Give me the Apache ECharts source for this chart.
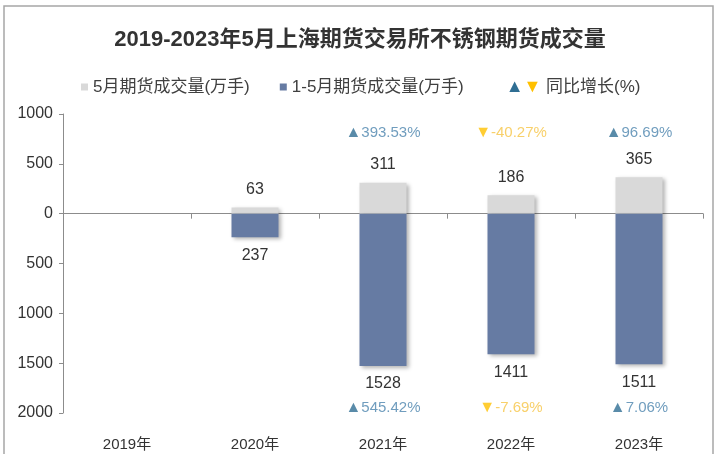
<!DOCTYPE html>
<html>
<head>
<meta charset="utf-8">
<script src="https://cdn.jsdelivr.net/npm/echarts@6/dist/echarts.min.js"></script>
<style>
html, body { margin: 0; padding: 0; background: #fff; }
#main { width: 720px; height: 454px; }
</style>
</head>
<body>
<div id="main"></div>
<script>
// data
var years = ['2019年', '2020年', '2021年', '2022年', '2023年'];
var mayVolume = [null, 63, 311, 186, 365];          // 5月期货成交量(万手)
var ytdVolume = [null, 237, 1528, 1411, 1511];      // 1-5月期货成交量(万手)
var mayGrowth = [null, null, 393.53, -40.27, 96.69]; // 5月同比增长(%)
var ytdGrowth = [null, null, 545.42, -7.69, 7.06];   // 1-5月同比增长(%)

// fixed heights (axis units) where the growth labels sit
var TOP_ROW = 810;
var BOTTOM_ROW = -1945;

var FONT = '"Liberation Sans", "Noto Sans CJK SC", sans-serif';

var chart = echarts.init(document.getElementById('main'));

function growthRow(values, level) {
    return values.map(function (v, i) {
        return v == null ? null : [i, level, v];
    });
}

function growthLabel(p) {
    var v = p.data[2];
    if (v >= 0) return '{upT|▲}{upV|' + v.toFixed(2) + '%}';
    return '{dnT|▼}{dnV|' + v.toFixed(2) + '%}';
}

var growthRich = {
    upT: { color: '#2F6E93', fontSize: 16, fontFamily: FONT },
    upV: { color: '#4C84AE', fontSize: 15, fontFamily: FONT },
    dnT: { color: '#FFC000', fontSize: 16, fontFamily: FONT },
    dnV: { color: '#F6C445', fontSize: 15, fontFamily: FONT }
};

var barShadow = {
    shadowBlur: 4,
    shadowColor: 'rgba(0,0,0,0.3)',
    shadowOffsetX: 2,
    shadowOffsetY: 2
};

option = {
    backgroundColor: '#fff',
    animation: false,
    title: {
        text: '2019-2023年5月上海期货交易所不锈钢期货成交量',
        left: 'center',
        top: 24,
        textStyle: {
            fontFamily: FONT,
            fontSize: 22,
            fontWeight: 'bold',
            color: '#333'
        }
    },
    legend: {
        left: 76,
        top: 73,
        itemWidth: 7,
        itemHeight: 7,
        itemGap: 30,
        textStyle: {
            fontFamily: FONT,
            fontSize: 17,
            color: '#404040',
            rich: {
                lu: { color: '#2F6E93', fontSize: 18 },
                ld: { color: '#FFC000', fontSize: 18 },
                lt: { color: '#404040', fontSize: 17, fontFamily: FONT }
            }
        },
        formatter: function (name) {
            if (name === '同比增长(%)') return '{lu|▲}{ld|▼} {lt|' + name + '}';
            return name;
        },
        data: [
            { name: '5月期货成交量(万手)', icon: 'rect' },
            { name: '1-5月期货成交量(万手)', icon: 'rect' },
            { name: '同比增长(%)', icon: 'none' }
        ]
    },
    grid: {
        left: 63,
        right: 17,
        top: 114,
        bottom: 41
    },
    xAxis: [
        {
            type: 'category',
            data: years,
            axisLine: { onZero: true, lineStyle: { color: '#8C8C8C', width: 1 } },
            axisTick: { show: true, length: 5, lineStyle: { color: '#8C8C8C' } },
            axisLabel: { show: false }
        },
        {
            type: 'category',
            data: years,
            position: 'bottom',
            axisLine: { show: false, onZero: false },
            axisTick: { show: false },
            axisLabel: {
                margin: 24,
                fontFamily: FONT,
                fontSize: 15,
                color: '#333'
            }
        }
    ],
    yAxis: {
        type: 'value',
        min: -2000,
        max: 1000,
        interval: 500,
        axisLine: { show: true, lineStyle: { color: '#8C8C8C' } },
        axisTick: { show: true, length: 4, lineStyle: { color: '#8C8C8C' } },
        splitLine: { show: false },
        axisLabel: {
            margin: 10,
            fontFamily: FONT,
            fontSize: 16,
            color: '#333',
            formatter: function (v) { return Math.abs(v); }
        }
    },
    series: [
        {
            name: '5月期货成交量(万手)',
            type: 'bar',
            xAxisIndex: 0,
            barWidth: 47,
            barGap: '-100%',
            data: mayVolume,
            itemStyle: Object.assign({ color: '#D9D9D9' }, barShadow),
            label: {
                show: true,
                position: 'top',
                distance: 10,
                fontFamily: FONT,
                fontSize: 16,
                color: '#333'
            }
        },
        {
            name: '1-5月期货成交量(万手)',
            type: 'bar',
            xAxisIndex: 0,
            barWidth: 47,
            data: ytdVolume.map(function (v) { return v == null ? null : -v; }),
            itemStyle: Object.assign({ color: '#667BA3' }, barShadow),
            label: {
                show: true,
                position: 'bottom',
                distance: 10,
                fontFamily: FONT,
                fontSize: 16,
                color: '#333',
                formatter: function (p) { return Math.abs(p.value); }
            }
        },
        {
            name: '同比增长(%)',
            type: 'scatter',
            xAxisIndex: 0,
            symbolSize: 1,
            itemStyle: { color: 'transparent' },
            data: growthRow(mayGrowth, TOP_ROW),
            label: {
                show: true,
                position: 'inside',
                formatter: growthLabel,
                rich: growthRich
            }
        },
        {
            name: '同比增长(%)',
            type: 'scatter',
            xAxisIndex: 0,
            symbolSize: 1,
            itemStyle: { color: 'transparent' },
            data: growthRow(ytdGrowth, BOTTOM_ROW),
            label: {
                show: true,
                position: 'inside',
                formatter: growthLabel,
                rich: growthRich
            }
        }
    ],
    graphic: [
        {
            type: 'rect',
            z: -1,
            shape: { x: 4, y: 6, width: 709, height: 500 },
            style: { fill: 'none', stroke: '#A6A6A6', lineWidth: 1.5 }
        }
    ]
};

chart.setOption(option, true);
</script>
</body>
</html>
